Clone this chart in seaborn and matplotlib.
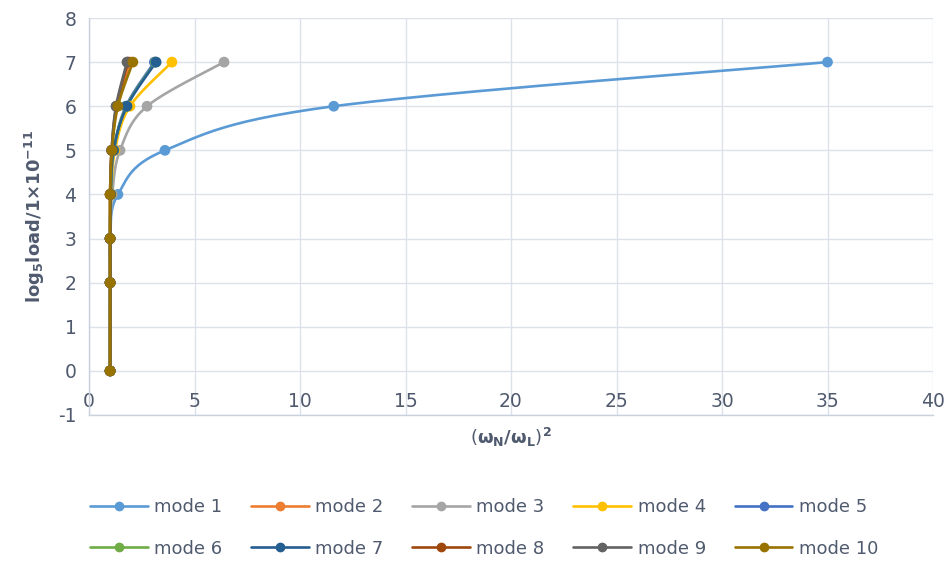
import numpy as np
import pandas as pd
import matplotlib
matplotlib.use("Agg")
import matplotlib.pyplot as plt
from matplotlib.lines import Line2D
import seaborn as sns

# ---------------- data ----------------
load_levels = [0, 2, 3, 4, 5, 6, 7]
mode_names = ["mode 1", "mode 2", "mode 3", "mode 4", "mode 5",
              "mode 6", "mode 7", "mode 8", "mode 9", "mode 10"]
mode1 = [1.0, 1.0, 1.0, 1.37, 3.6, 11.6, 35.0]
mode2 = [1.0, 1.0, 1.0, 1.0, 1.08, 1.33, 1.95]
mode3 = [1.0, 1.0, 1.0, 1.1, 1.47, 2.75, 6.4]
mode4 = [1.0, 1.0, 1.0, 1.05, 1.23, 1.94, 3.93]
mode5 = [1.0, 1.0, 1.0, 1.03, 1.18, 1.75, 3.1]
mode6 = [1.0, 1.0, 1.0, 1.03, 1.16, 1.78, 3.15]
mode7 = [1.0, 1.0, 1.0, 1.03, 1.16, 1.8, 3.18]
mode8 = [1.0, 1.0, 1.0, 1.0, 1.07, 1.3, 1.85]
mode9 = [1.0, 1.0, 1.0, 1.0, 1.07, 1.28, 1.8]
mode10 = [1.0, 1.0, 1.0, 1.0, 1.09, 1.37, 2.08]
modes = [mode1, mode2, mode3, mode4, mode5, mode6, mode7, mode8, mode9, mode10]
x_ticks = [0, 5, 10, 15, 20, 25, 30, 35, 40]
y_ticks = [-1, 0, 1, 2, 3, 4, 5, 6, 7, 8]
colors = ["#5B9BD5", "#ED7D31", "#A5A5A5", "#FFC000", "#4472C4",
          "#70AD47", "#255E91", "#9E480E", "#636363", "#997300"]


def smooth(xs, ys, n=30):
    """Excel-like smoothed line (Catmull-Rom / Bezier) through the points."""
    P = np.column_stack([xs, ys]).astype(float)
    out = []
    m = len(P)
    for i in range(m - 1):
        p0 = P[i - 1] if i > 0 else P[i]
        p1 = P[i]
        p2 = P[i + 1]
        p3 = P[i + 2] if i + 2 < m else P[i + 1]
        c1 = p1 + (p2 - p0) / 6.0
        c2 = p2 - (p3 - p1) / 6.0
        t = np.linspace(0, 1, n)[:, None]
        seg = ((1 - t) ** 3) * p1 + 3 * ((1 - t) ** 2) * t * c1 + 3 * (1 - t) * t ** 2 * c2 + t ** 3 * p2
        out.append(seg if i == 0 else seg[1:])
    return np.vstack(out)


sns.set_theme(style="white")
plt.rcParams["font.family"] = ["DejaVu Sans"]
plt.rcParams["axes.unicode_minus"] = False
text_color = "#505a6e"
grid_color = "#dde1ea"

fig = plt.figure(figsize=(9.49, 5.66), dpi=100)
ax = fig.add_axes([89 / 949, 1 - 415 / 566, (933 - 89) / 949, (415 - 18) / 566])

line_rows = []
pt_rows = []
for name, xs in zip(mode_names, modes):
    s = smooth(xs, load_levels)
    for k, (xx, yy) in enumerate(s):
        line_rows.append({"mode": name, "order": k, "x": xx, "y": yy})
    for xx, yy in zip(xs, load_levels):
        pt_rows.append({"mode": name, "x": xx, "y": yy})
lines_df = pd.DataFrame(line_rows)
pts_df = pd.DataFrame(pt_rows)

for name, col in zip(mode_names, colors):
    sub = lines_df[lines_df["mode"] == name]
    sns.lineplot(data=sub, x="x", y="y", sort=False, estimator=None,
                 color=col, linewidth=1.9, ax=ax, legend=False, zorder=3)
    subp = pts_df[pts_df["mode"] == name]
    sns.scatterplot(data=subp, x="x", y="y", color=col, s=60,
                    edgecolor="none", ax=ax, legend=False, zorder=4)

ax.set_xlim(0, 40)
ax.set_ylim(-1, 8)
ax.set_xticks(x_ticks)
ax.set_yticks(y_ticks)
ax.grid(True, color=grid_color, linewidth=1.0)
ax.set_axisbelow(True)
for side in ["top", "right"]:
    ax.spines[side].set_visible(False)
for side in ["left", "bottom"]:
    ax.spines[side].set_color("#c9d0de")
    ax.spines[side].set_linewidth(1.0)

ax.tick_params(axis="both", length=0, labelsize=13.5, colors=text_color)
ax.tick_params(axis="x", pad=-16.5)
ax.tick_params(axis="y", pad=9)

ax.set_xlabel(r"$(\mathbf{\omega_N/\omega_L})^\mathbf{2}$", fontsize=13,
              color=text_color, fontweight="bold", labelpad=8)
ax.set_ylabel(r"log$_\mathbf{5}$load/1×10$^\mathbf{-11}$", fontsize=13,
              color=text_color, fontweight="bold", labelpad=8)

# legend in row-major order (matplotlib fills columns first)
handles = [Line2D([0], [0], color=c, linewidth=1.9, marker="o", markersize=6)
           for c in colors]
order = [0, 5, 1, 6, 2, 7, 3, 8, 4, 9]
leg = fig.legend([handles[i] for i in order], [mode_names[i] for i in order],
                 loc="center", ncol=5,
                 bbox_to_anchor=(484 / 949, 1 - 528 / 566), frameon=False,
                 fontsize=13, handlelength=3.2, handletextpad=0.35,
                 columnspacing=1.6, labelspacing=1.3)
for t in leg.get_texts():
    t.set_color(text_color)

fig.savefig("out.png", dpi=100)
